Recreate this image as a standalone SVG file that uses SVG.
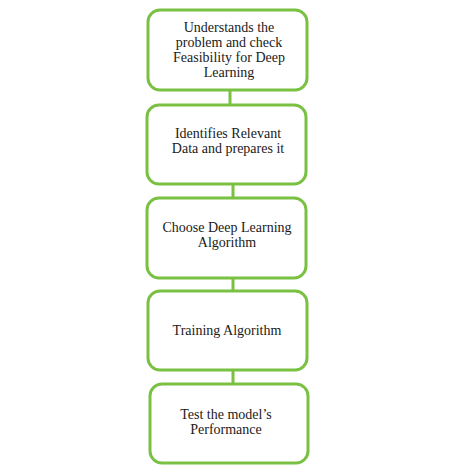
<svg xmlns="http://www.w3.org/2000/svg" width="474" height="473" viewBox="0 0 474 473">
<style>
.box{fill:#fff;stroke:#7ac143;stroke-width:3}
.conn{stroke:#7ac143;stroke-width:3;fill:none}
text{font-family:"Liberation Serif","Times New Roman",serif;font-size:14px;fill:#1a1a1a;text-anchor:middle}
</style>
<rect width="474" height="473" fill="#fff"/>
<g id="connectors">
<line class="conn" x1="230" y1="90" x2="230" y2="105"/>
<line class="conn" x1="233" y1="184" x2="233" y2="198"/>
<line class="conn" x1="233" y1="278" x2="233" y2="291"/>
<line class="conn" x1="233" y1="370" x2="233" y2="384"/>
</g>
<g id="n1">
<rect class="box" x="148" y="10" width="159" height="80" rx="12"/>
<text x="229" y="32">Understands the</text>
<text x="229" y="47">problem and check</text>
<text x="229" y="62">Feasibility for Deep</text>
<text x="229" y="77">Learning</text>
</g>
<g id="n2">
<rect class="box" x="147" y="105" width="159" height="79" rx="12"/>
<text x="228" y="138">Identifies Relevant</text>
<text x="228" y="153">Data and prepares it</text>
</g>
<g id="n3">
<rect class="box" x="147" y="198" width="159" height="80" rx="12"/>
<text x="227" y="232">Choose Deep Learning</text>
<text x="227" y="247">Algorithm</text>
</g>
<g id="n4">
<rect class="box" x="148" y="291" width="159" height="79" rx="12"/>
<text x="227" y="335">Training Algorithm</text>
</g>
<g id="n5">
<rect class="box" x="150" y="384" width="158" height="79" rx="12"/>
<text x="226" y="419">Test the model’s</text>
<text x="226" y="434">Performance</text>
</g>
</svg>
